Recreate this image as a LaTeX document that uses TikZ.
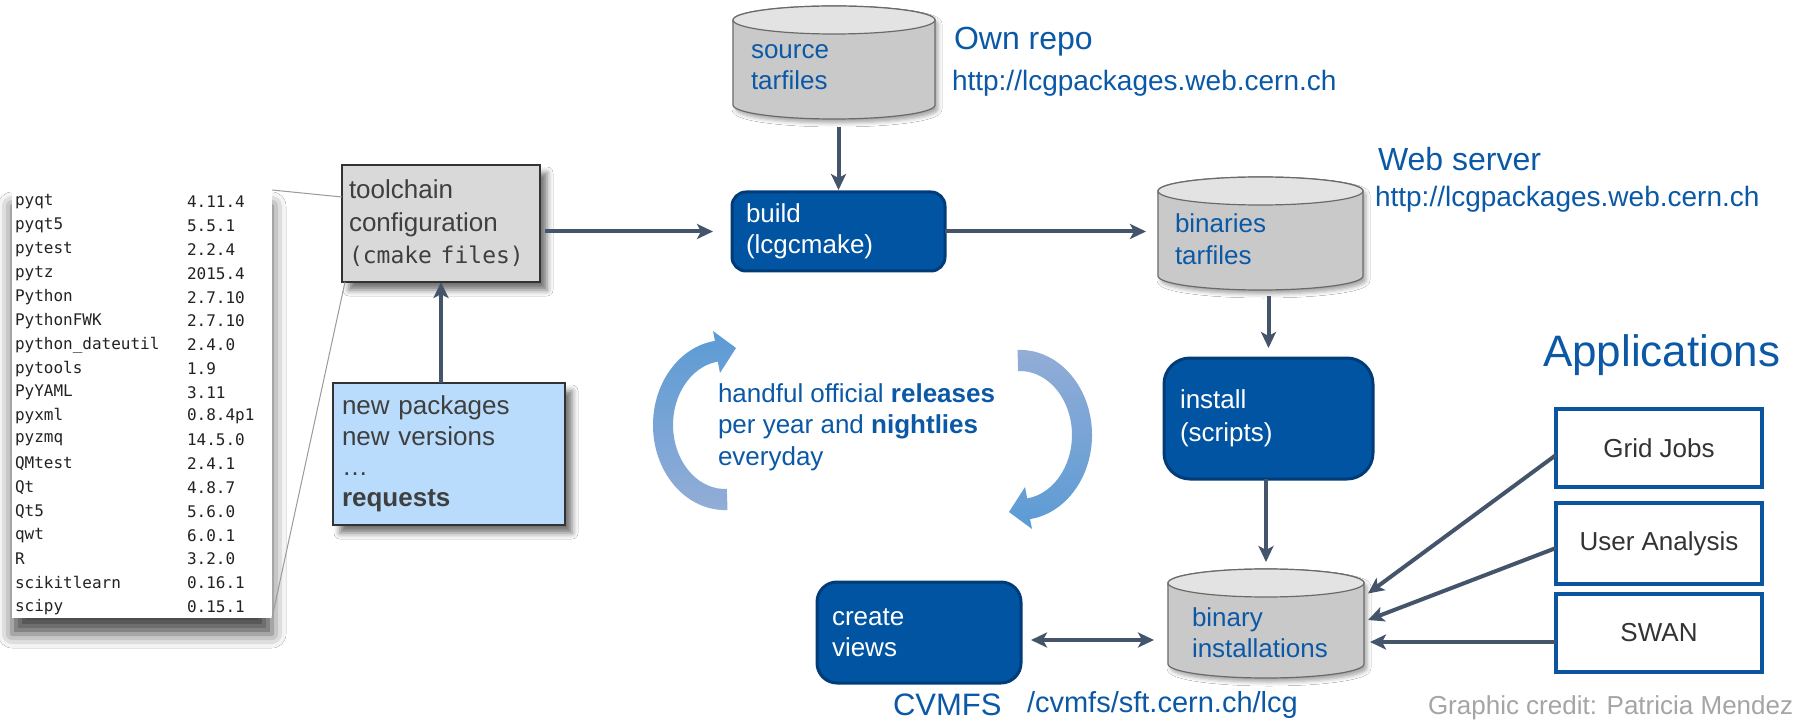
\documentclass[tikz,border=0pt]{standalone}
\usepackage{fontspec}
\setmainfont{Liberation Sans}
\setmonofont{DejaVu Sans Mono}
\usetikzlibrary{arrows.meta,calc,shadows.blur}
\definecolor{arrowc}{HTML}{44546A}
\definecolor{boxblue}{HTML}{0054A2}
\definecolor{boxblueD}{HTML}{003C78}
\definecolor{bluetext}{HTML}{0B59A6}
\definecolor{appblue}{HTML}{0B55A0}
\definecolor{apptext}{HTML}{333333}
\definecolor{cylbody}{HTML}{C9C9C9}
\definecolor{cyltop}{HTML}{E3E3E3}
\definecolor{cylline}{HTML}{6A6A6A}
\definecolor{toolfill}{HTML}{D9D9D9}
\definecolor{reqfill}{HTML}{B9DCFC}
\definecolor{boxtext}{HTML}{3F3F3F}
\definecolor{creditgray}{HTML}{A5A5A5}
\definecolor{cycA}{HTML}{5B9BD5}
\definecolor{cycB}{HTML}{93ADD6}
\definecolor{linkgray}{HTML}{9A9A9A}
\definecolor{pkgtext}{HTML}{222222}
\newcommand\fs[2]{\fontsize{#1}{#2}\selectfont}
\newcommand\dbcyl[4]{%
  \path[blur shadow={shadow xshift=3pt,shadow yshift=-4pt,shadow opacity=35,shadow blur radius=4pt},
        fill=cylbody, draw=cylline, line width=1.2pt]
    (#1,#2+14) -- (#1,#4-14) arc[start angle=180,end angle=0,x radius={(#3-#1)/2},y radius=14]
    -- (#3,#2+14) arc[start angle=0,end angle=-180,x radius={(#3-#1)/2},y radius=14] -- cycle;
  \draw[fill=cyltop, draw=cylline, line width=1.2pt] ({(#1+#3)/2},#2+14) ellipse[x radius={(#3-#1)/2},y radius=14];
}
\begin{document}
\begin{tikzpicture}[x=1pt,y=-1pt,
  every node/.style={inner sep=0pt, outer sep=0pt},
  conn/.style={draw=arrowc, line width=4pt, -{Stealth[length=16pt,width=15pt,inset=4pt]}},
  biconn/.style={draw=arrowc, line width=4pt, {Stealth[length=16pt,width=15pt,inset=4pt]}-{Stealth[length=16pt,width=15pt,inset=4pt]}},
  bluebox/.style={fill=boxblue, draw=boxblueD, line width=3pt, text=white, align=left, font=\fs{26}{31}},
  appbox/.style={draw=appblue, line width=4pt, fill=white, text=apptext, font=\fs{26}{31}, minimum width=206pt},
  greybox/.style={draw=black!80, line width=1.5pt, text=boxtext, align=left,
     blur shadow={shadow xshift=7pt, shadow yshift=-8pt, shadow opacity=55, shadow blur radius=6pt}},
  lbl/.style={text=bluetext, anchor=west},
  cylnode/.style={minimum width=#1, minimum height=113pt},
  pkg/.style={anchor=west, text=pkgtext, font=\ttfamily\fs{16}{19}},
  graylink/.style={draw=linkgray, line width=1pt}
]
\useasboundingbox (0,0) rectangle (1816,722);
\fill[white] (0,0) rectangle (1816,722);

% package list panel
\node[fill=white, minimum width=260pt, minimum height=428pt, anchor=north west,
      blur shadow={shadow xshift=0pt, shadow yshift=-16pt, shadow opacity=70, shadow blur radius=14pt}]
      (panel) at (12,190) {};
\foreach \n/\v [count=\i] in {pyqt/4.11.4, pyqt5/5.5.1, pytest/2.2.4, pytz/2015.4, Python/2.7.10,
  PythonFWK/2.7.10, python\_dateutil/2.4.0, pytools/1.9, PyYAML/3.11, pyxml/0.8.4p1, pyzmq/14.5.0,
  QMtest/2.4.1, Qt/4.8.7, Qt5/5.6.0, qwt/6.0.1, R/3.2.0, scikitlearn/0.16.1, scipy/0.15.1} {
  \node[pkg] (pn\i) at (15,{202+23.8*(\i-1)}) {\n};
  \node[pkg] (pv\i) at (187,{202+23.8*(\i-1)}) {\v};
}

% toolchain and requests
\node[greybox, fill=toolfill, minimum width=198pt, minimum height=117pt, inner xsep=7pt, text width=184pt,
      font=\fs{26}{32.5}] (tool) at (441,223.5)
      {toolchain\\configuration\\{\ttfamily\fontsize{23}{32.5}\selectfont(cmake~files)}};
\draw[graylink] (panel.north east) -- ($(tool.north west)+(0,32)$);
\draw[graylink] (panel.south east) -- ($(tool.south west)+(3,0)$);
\node[greybox, fill=reqfill, minimum width=232pt, minimum height=142pt, inner xsep=9pt, text width=214pt,
      font=\fs{26}{30.5}] (req) at (449,454)
      {new packages\\new versions\\…\\\textbf{requests}};

% cylinders
\dbcyl{733}{6}{935}{119}
\node[cylnode=202pt] (src) at (834,62.5) {};
\node[lbl, align=left, font=\fs{26}{31}] (srcT) at (751,67.5) {source\\tarfiles};
\dbcyl{1158}{177}{1363}{290}
\node[cylnode=205pt] (bin) at (1260.5,233.5) {};
\node[lbl, align=left, font=\fs{26}{32}] (binT) at (1175,239) {binaries\\tarfiles};
\dbcyl{1168}{569}{1364}{678}
\node[cylnode=196pt, minimum height=109pt] (binst) at (1266,623.5) {};
\node[lbl, align=left, font=\fs{26}{31}] (binstT) at (1192,632.5) {binary\\installations};

% blue process boxes
\node[bluebox, rounded corners=14pt, minimum width=213pt, minimum height=79pt, inner xsep=14pt, text width=185pt]
      (build) at (838.5,231.5) {build\\(lcgcmake)};
\node[bluebox, rounded corners=26pt, minimum width=209pt, minimum height=121pt, inner xsep=16pt, text width=177pt,
      font=\fs{26}{33}] (install) at (1268.5,418.5) {install\\(scripts)};
\node[bluebox, rounded corners=20pt, minimum width=204pt, minimum height=101pt, inner xsep=15pt, text width=174pt]
      (views) at (919,632.5) {create\\views};

% application boxes
\node[appbox, minimum height=78pt] (grid) at (1659,448) {Grid Jobs};
\node[appbox, minimum height=81pt] (ua) at (1659,543.5) {User Analysis};
\node[appbox, minimum height=78pt] (swan) at (1659,633) {SWAN};

% labels
\node[lbl, font=\fs{32}{38}] (ownrepo) at (954,42) {Own repo};
\node[lbl, font=\fs{28}{33}] (url1) at (952,83) {http://lcgpackages.web.cern.ch};
\node[lbl, font=\fs{32}{38}] (websrv) at (1378,159) {Web server};
\node[lbl, font=\fs{28}{33}] (url2) at (1375,199) {http://lcgpackages.web.cern.ch};
\node[lbl, font=\fs{44}{52}] (apps) at (1543,355) {Applications};
\node[lbl, font=\fs{31}{37}] (cvmfs) at (893,705) {CVMFS};
\node[lbl, font=\fs{29}{35}] (cvpath) at (1027,705) {/cvmfs/sft.cern.ch/lcg};
\node[anchor=west, text=creditgray, font=\fs{26}{31}] (credit) at (1428,708) {Graphic credit: Patricia Mendez};
\node[lbl, align=left, font=\fs{26}{31.5}] (cyc) at (718,427)
      {handful official \textbf{releases}\\per year and \textbf{nightlies}\\everyday};

% cycle arrows
\shade[top color=cycA, bottom color=cycB]
  (727.5,510) arc[start angle=88,end angle=262,x radius=72,y radius=85]
  -- (713,331) -- (736,348) -- (720,373) -- (717.8,361.6)
  arc[start angle=262,end angle=88,x radius=52,y radius=64] -- cycle;
\shade[top color=cycB, bottom color=cycA]
  (1017.5,350) arc[start angle=268,end angle=442,x radius=72,y radius=85]
  -- (1032,529) -- (1009,512) -- (1025,487) -- (1027.2,498.4)
  arc[start angle=442,end angle=268,x radius=52,y radius=64] -- cycle;

% connectors
\draw[conn, shorten <=8pt, shorten >=2pt] (build.north |- src.south) -- (build.north);
\draw[conn, shorten <=5pt, shorten >=19pt] (tool.east |- build.west) -- (build.west);
\draw[conn, shorten >=12pt] (build.east) -- (build.east -| bin.west);
\draw[conn, shorten <=6pt, shorten >=10pt] (install.north |- bin.south) -- (install.north);
\draw[conn, shorten >=7pt] (binst.north |- install.south) -- (binst.north);
\draw[conn] (tool.south |- req.north) -- (tool.south);
\draw[biconn, shorten <=10pt, shorten >=14pt] ($(views.east)+(0,7.5)$) -- ($(views.east -| binst.west)+(0,7.5)$);
\draw[conn] ($(grid.west)+(0,7)$) -- ($(binst.east)+(4,-30)$);
\draw[conn] ($(ua.west)+(0,4.5)$) -- ($(binst.east)+(4,-3.5)$);
\draw[conn] ($(swan.west)+(0,9)$) -- ($(binst.east)+(6,18.5)$);
\end{tikzpicture}
\end{document}
